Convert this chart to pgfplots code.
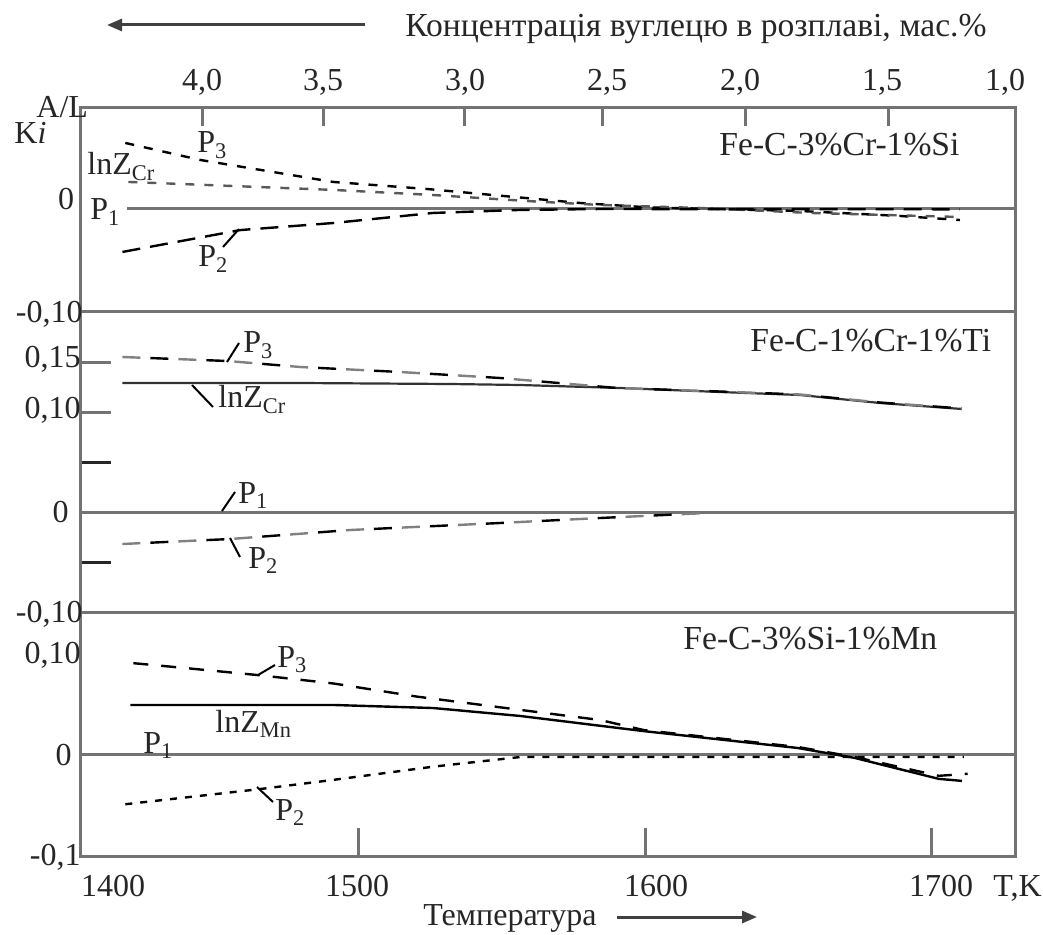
\documentclass[border=0pt]{standalone}
\usepackage{fontspec}
\setmainfont{Liberation Serif}
\usepackage{pgfplots}
\pgfplotsset{compat=1.18}
\usetikzlibrary{arrows.meta}

\pgfplotsset{
  panel/.style={
    scale only axis, width=467.5pt, xmin=1403, xmax=1729,
    anchor=north west,
    axis line style={black!55, line width=1.5pt},
    tick style={black!55, line width=1.5pt},
    tick align=inside,
    xticklabel=\empty, yticklabel=\empty,
    xtick=\empty, ytick=\empty,
  },
  p1/.style={black!55, line width=1.5pt},
  crv/.style={black, line width=1.2pt},
}
\newcommand\bigtxt{\fontsize{16.8}{20}\selectfont}

\begin{document}
\fontsize{16}{19}\selectfont
\begin{tikzpicture}
\useasboundingbox (0,0) rectangle (521.5pt,-467.5pt);

% ---------- top panel: Fe-C-3%Cr-1%Si ----------
\begin{axis}[panel, at={(40pt,-54pt)}, height=102pt, ymin=-0.1, ymax=0.0967,
  xtick={1445.6,1487.8,1536.9,1585.3,1634.9,1684.9}, xtick pos=right,
  major tick length=9pt]
\addplot[p1] coordinates {(1419.5,0) (1729,0)};
\addplot[crv, dash pattern=on 4.5pt off 5pt] coordinates {
 (1418.8,0.0630) (1444.9,0.0466) (1491.3,0.0254) (1524.0,0.0186) (1550.5,0.0119)
 (1577.4,0.0051) (1601.7,0.0008) (1654.0,-0.0026) (1688.9,-0.0074) (1709.8,-0.0113)};
\addplot[crv, black!65, dash pattern=on 4.5pt off 5pt] coordinates {
 (1419.9,0.0254) (1491.3,0.0177) (1526.1,0.0128) (1558.9,0.0070) (1584.3,0.0032)
 (1619.2,0.0003) (1657.5,-0.0045) (1709.8,-0.0084)};
\addplot[crv, dash pattern=on 9pt off 5pt] coordinates {
 (1417.8,-0.0421) (1458.9,-0.0210) (1491.3,-0.0142) (1526.1,-0.0045) (1556.4,-0.0016)
 (1584.3,-0.0007) (1709.8,-0.0010)};
\end{axis}

% ---------- middle panel: Fe-C-1%Cr-1%Ti ----------
\begin{axis}[panel, at={(40pt,-156pt)}, height=150pt, ymin=-0.1, ymax=0.2,
  ytick={0.1,0.15}, minor ytick={-0.05,0.05}, ytick pos=left,
  major tick length=15.5pt, minor tick length=15.5pt,
  minor tick style={black!85}]
\addplot[p1] coordinates {(1403,0) (1729,0)};
\addplot[crv, black!80, line width=1.1pt] coordinates {
 (1417.8,0.129) (1479.8,0.129) (1532.1,0.128) (1556.4,0.127) (1591.3,0.124)
 (1626.1,0.120) (1654.0,0.117) (1681.9,0.109) (1710.5,0.103)};
% P3 (alternating grey / black dashes)
\addplot[crv, black!50, dash pattern=on 9pt off 19pt] coordinates {
 (1417.8,0.155) (1454.4,0.151) (1479.8,0.145) (1514.6,0.140) (1549.5,0.134)
 (1590.2,0.124) (1626.1,0.1205) (1654.0,0.1175) (1681.9,0.1095) (1710.5,0.1035)};
\addplot[crv, dash pattern=on 9pt off 19pt, dash phase=14pt] coordinates {
 (1417.8,0.155) (1454.4,0.151) (1479.8,0.145) (1514.6,0.140) (1549.5,0.134)
 (1590.2,0.124) (1626.1,0.1205) (1654.0,0.1175) (1681.9,0.1095) (1710.5,0.1035)};
% P2
\addplot[crv, black!50, dash pattern=on 9pt off 19pt] coordinates {
 (1417.8,-0.032) (1455.4,-0.027) (1497.2,-0.018) (1549.5,-0.011) (1584.3,-0.006) (1621.6,-0.001)};
\addplot[crv, dash pattern=on 9pt off 19pt, dash phase=14pt] coordinates {
 (1417.8,-0.032) (1455.4,-0.027) (1497.2,-0.018) (1549.5,-0.011) (1584.3,-0.006) (1621.6,-0.001)};
\end{axis}

% ---------- bottom panel: Fe-C-3%Si-1%Mn ----------
\begin{axis}[panel, at={(40pt,-306pt)}, height=122pt, ymin=-0.1, ymax=0.1404,
  xtick={1500,1600,1700}, xtick pos=left, major tick length=14pt,
  minor ytick={0.1}, ytick pos=left, minor tick length=10.5pt]
\addplot[p1] coordinates {(1403,0) (1729,0)};
\addplot[crv, dash pattern=on 7.5pt off 6.5pt] coordinates {
 (1421.6,0.090) (1440.4,0.085) (1465.9,0.078) (1491.3,0.070) (1520.6,0.057)
 (1556.4,0.044) (1584.3,0.034) (1599.7,0.024) (1653.3,0.0074) (1673.2,-0.0025)
 (1702.4,-0.021) (1712.5,-0.019)};
\addplot[crv] coordinates {
 (1420.6,0.0488) (1491.3,0.0488) (1526.1,0.0458) (1556.4,0.038) (1599.7,0.023)
 (1653.3,0.0064) (1673.2,-0.0034) (1702.4,-0.024) (1710.5,-0.026)};
\addplot[crv, dash pattern=on 3.5pt off 4pt] coordinates {
 (1418.8,-0.049) (1465.9,-0.034) (1491.3,-0.025) (1526.1,-0.012) (1556.4,-0.0025)
 (1711.2,-0.0025)};
\end{axis}

% ---------- texts (pixel coordinates of the reference) ----------
\begin{scope}[x=0.5pt,y=-0.5pt, every node/.style={inner sep=0pt, text=black!85}]
\node[anchor=base west] at (405,37) {\bigtxt Концентрація вуглецю в розплаві, мас.\%};
\draw[black!75, line width=1.5pt, -{Triangle[length=7.5pt,width=6pt]}] (365,25) -- (107,25);
\foreach \xx/\tt in {202/{4,0},323/{3,5},465/{3,0},607/{2,5},740/{2,0},882/{1,5},1005/{1,0}}
  \node[anchor=base] at (\xx,91) {\tt};
\foreach \xx/\tt in {113/1400,357/1500,656/1600,941/1700}
  \node[anchor=base] at (\xx,896) {\tt};
\node[anchor=base west] at (993,896) {T,K};
\node[anchor=base west] at (423,925) {Температура};
\draw[black!75, line width=1.5pt, -{Triangle[length=7.5pt,width=6pt]}] (617,917) -- (757,917);

% y labels
\node[anchor=base west] at (14,144) {K\textit{i}};
\node[anchor=base west] at (36,118) {A/L};
\node[anchor=base] at (66,210) {0};
\node[anchor=base east] at (83,322) {-0,10};
\node[anchor=base east] at (81,367) {0,15};
\node[anchor=base east] at (81,418) {0,10};
\node[anchor=base east] at (69,522) {0};
\node[anchor=base east] at (83,622) {-0,10};
\node[anchor=base east] at (81,663) {0,10};
\node[anchor=base east] at (72,765) {0};
\node[anchor=base east] at (81,865) {-0,1};

% panel titles
\node[anchor=base west] at (719,156) {\bigtxt Fe-C-3\%Cr-1\%Si};
\node[anchor=base west] at (750,351) {\bigtxt Fe-C-1\%Cr-1\%Ti};
\node[anchor=base west] at (683,649) {\bigtxt Fe-C-3\%Si-1\%Mn};

% curve labels, top
\node[anchor=base west] at (197,153) {P\textsubscript{3}};
\node[anchor=base west] at (87,175) {lnZ\textsubscript{Cr}};
\node[anchor=base west] at (90,220) {P\textsubscript{1}};
\node[anchor=base west] at (198,267) {P\textsubscript{2}};
\draw[black, line width=1pt] (223,247) -- (239,229);
% middle
\node[anchor=base west] at (243,353) {P\textsubscript{3}};
\node[anchor=base west] at (218,408) {lnZ\textsubscript{Cr}};
\node[anchor=base west] at (238,503) {P\textsubscript{1}};
\node[anchor=base west] at (248,568) {P\textsubscript{2}};
\draw[black, line width=1pt] (227,362) -- (239,343);
\draw[black, line width=1pt] (192,385) -- (213,407);
\draw[black, line width=1pt] (222,511) -- (235,492);
\draw[black, line width=1pt] (230,538) -- (240,557);
% bottom
\node[anchor=base west] at (277,667) {P\textsubscript{3}};
\node[anchor=base west] at (215,732) {lnZ\textsubscript{Mn}};
\node[anchor=base west] at (143,753) {P\textsubscript{1}};
\node[anchor=base west] at (275,820) {P\textsubscript{2}};
\draw[black, line width=1pt] (258,675) -- (275,665);
\draw[black, line width=1pt] (257,787) -- (273,802);
\end{scope}
\end{tikzpicture}
\end{document}
